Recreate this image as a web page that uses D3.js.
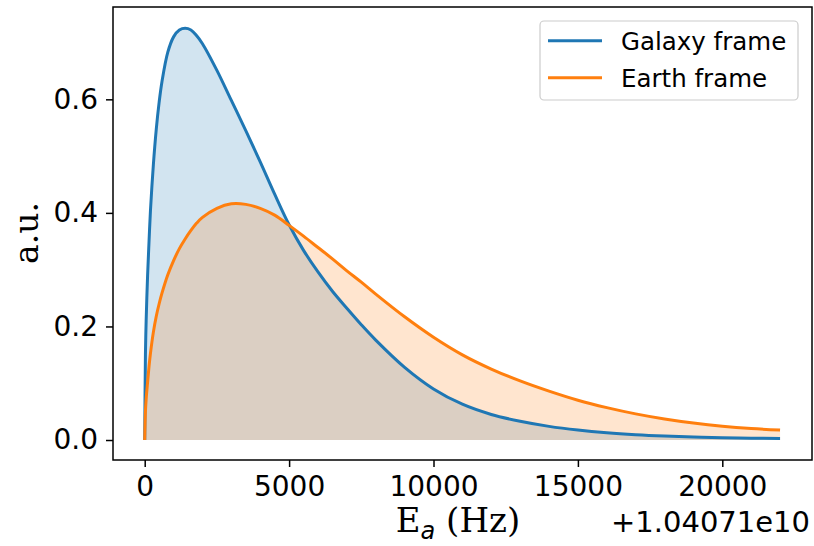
<!DOCTYPE html>
<html>
<head>
<meta charset="utf-8">
<script src="https://cdn.jsdelivr.net/npm/d3@7"></script>
<style>
  html, body { margin: 0; padding: 0; background: #fff; }
  svg { display: block; }
</style>
</head>
<body>
<div id="container"></div>
<script>
// energy offset from 1.04071e10 Hz
const energies = [0, 25, 50, 100, 150, 200, 300, 400, 500, 600, 800, 1000, 1200, 1400, 1600,
  1800, 2000, 2500, 3000, 3500, 4000, 4500, 5000, 5500, 6000, 6500, 7000, 7500, 8000, 9000, 10000,
  11000, 12000, 13000, 14000, 15000, 16000, 17000, 18000, 19000, 20000, 21000, 22000];

const galaxy = [0, 0.15, 0.21, 0.29, 0.35, 0.405, 0.485, 0.547, 0.595, 0.632, 0.683, 0.71, 0.722, 0.725, 0.722,
  0.712, 0.698, 0.651, 0.598, 0.545, 0.49, 0.433, 0.379, 0.334, 0.296, 0.262, 0.232, 0.203, 0.176, 0.128, 0.09,
  0.063, 0.045, 0.033, 0.024, 0.0175, 0.0127, 0.0093, 0.0069, 0.0052, 0.0041, 0.0033, 0.0028];

const earth = [0, 0.05, 0.072, 0.102, 0.13, 0.153, 0.19, 0.218, 0.240, 0.259, 0.291, 0.316, 0.337, 0.354, 0.369,
  0.382, 0.392, 0.408, 0.416, 0.415, 0.408, 0.396, 0.378, 0.359, 0.339, 0.319, 0.298, 0.278, 0.257, 0.217, 0.181,
  0.15, 0.125, 0.104, 0.086, 0.07, 0.057, 0.046, 0.037, 0.0298, 0.0242, 0.0202, 0.0176];

const seriesNames = ['Galaxy frame', 'Earth frame'];
const colors = ['#1f77b4', '#ff7f0e'];

const xTicks = [0, 5000, 10000, 15000, 20000];
const yTicks = [0, 0.2, 0.4, 0.6];
const offsetLabel = '+1.04071e10';

const width = 814;
const height = 546;
const margin = {top: 7, right: 2, bottom: 86, left: 113};

const svg = d3.select('#container').append('svg')
  .attr('width', width)
  .attr('height', height)
  .attr('viewBox', [0, 0, width, height]);

const x = d3.scaleLinear()
  .domain([-1098, 23106])
  .range([margin.left, width - margin.right]);

const y = d3.scaleLinear()
  .domain([-0.0352, 0.7626])
  .range([height - margin.bottom, margin.top]);

const series = [galaxy, earth].map((vals, i) => ({
  name: seriesNames[i],
  color: colors[i],
  points: energies.map((e, j) => [e, vals[j]])
}));

const curve = d3.curveCatmullRom.alpha(0.5);

const area = d3.area()
  .x(d => x(d[0]))
  .y0(y(0))
  .y1(d => y(d[1]))
  .curve(curve);

const line = d3.line()
  .x(d => x(d[0]))
  .y(d => y(d[1]))
  .curve(curve);

// fills sit under the lines
svg.append('g')
  .selectAll('path')
  .data(series)
  .join('path')
  .attr('d', d => area(d.points))
  .attr('fill', d => d.color)
  .attr('fill-opacity', 0.2);

svg.append('g')
  .selectAll('path')
  .data(series)
  .join('path')
  .attr('d', d => line(d.points))
  .attr('fill', 'none')
  .attr('stroke', d => d.color)
  .attr('stroke-width', 3)
  .attr('stroke-linejoin', 'round');

// axes
const tickFont = 28;

const xAxis = svg.append('g')
  .attr('transform', `translate(0,${height - margin.bottom})`)
  .call(d3.axisBottom(x).tickValues(xTicks).tickSize(7).tickPadding(9).tickSizeOuter(0)
    .tickFormat(d3.format('d')));

const yAxis = svg.append('g')
  .attr('transform', `translate(${margin.left},0)`)
  .call(d3.axisLeft(y).tickValues(yTicks).tickSize(7).tickPadding(8).tickSizeOuter(0)
    .tickFormat(d3.format('.1f')));

[xAxis, yAxis].forEach(g => {
  g.select('.domain').remove();
  g.selectAll('.tick line').attr('stroke', '#000').attr('stroke-width', 1.5);
  g.selectAll('.tick text')
    .attr('fill', '#000')
    .style('font-family', '"DejaVu Sans", sans-serif')
    .style('font-size', tickFont + 'px');
});

// frame
svg.append('rect')
  .attr('x', margin.left)
  .attr('y', margin.top)
  .attr('width', width - margin.left - margin.right)
  .attr('height', height - margin.top - margin.bottom)
  .attr('fill', 'none')
  .attr('stroke', '#000')
  .attr('stroke-width', 1.5);

// offset text
svg.append('text')
  .attr('x', width - margin.right - 2)
  .attr('y', 532)
  .attr('text-anchor', 'end')
  .style('font-family', '"DejaVu Sans", sans-serif')
  .style('font-size', '29px')
  .text(offsetLabel);

// x label
const xlab = svg.append('text')
  .attr('x', 458)
  .attr('y', 532)
  .attr('text-anchor', 'middle')
  .style('font-family', '"DejaVu Serif", serif')
  .style('font-size', '34px');
xlab.append('tspan').text('E');
xlab.append('tspan')
  .attr('dy', 7)
  .style('font-family', '"DejaVu Sans", sans-serif')
  .style('font-style', 'italic')
  .style('font-size', '24px')
  .text('a');
xlab.append('tspan').attr('dy', -7).text('\u00a0(Hz)');

// y label
svg.append('text')
  .attr('transform', 'translate(38,233) rotate(-90)')
  .attr('text-anchor', 'middle')
  .style('font-family', '"DejaVu Serif", serif')
  .style('font-size', '33px')
  .text('a.u.');

// legend
const legend = svg.append('g');
legend.append('rect')
  .attr('x', 540)
  .attr('y', 21)
  .attr('width', 258)
  .attr('height', 79)
  .attr('rx', 4)
  .attr('fill', '#fff')
  .attr('fill-opacity', 0.8)
  .attr('stroke', '#cccccc')
  .attr('stroke-width', 1.2);

const item = legend.selectAll('g.item')
  .data(series)
  .join('g')
  .attr('class', 'item')
  .attr('transform', (d, i) => `translate(0,${40.7 + i * 37})`);

item.append('line')
  .attr('x1', 548)
  .attr('x2', 602)
  .attr('stroke', d => d.color)
  .attr('stroke-width', 3);

item.append('text')
  .attr('x', 621)
  .attr('dy', '0.36em')
  .style('font-family', '"DejaVu Sans", sans-serif')
  .style('font-size', '24.5px')
  .attr('fill', '#000')
  .text(d => d.name);
</script>
</body>
</html>
